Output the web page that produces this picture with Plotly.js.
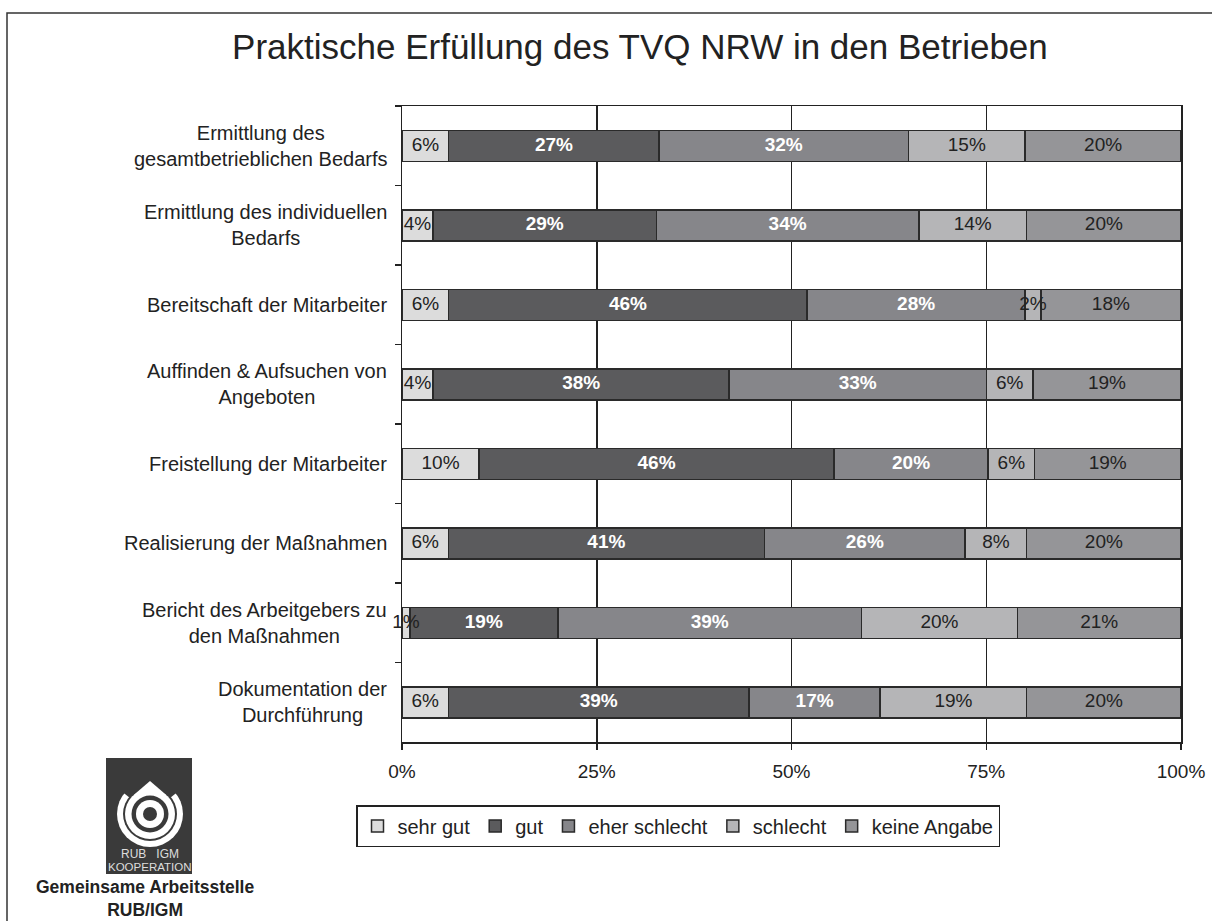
<!DOCTYPE html>
<html>
<head>
<meta charset="utf-8">
<script src="https://cdn.plot.ly/plotly-3.0.1.min.js"></script>
<style>
  html, body { margin: 0; padding: 0; background: #ffffff; }
  #chart { width: 1212px; height: 921px; }
</style>
</head>
<body>
<div id="chart"></div>
<script>
// ---- data ----
const categories = [
  "Ermittlung des<br>gesamtbetrieblichen Bedarfs",
  "Ermittlung des individuellen<br>Bedarfs",
  "Bereitschaft der Mitarbeiter",
  "Auffinden & Aufsuchen von<br>Angeboten",
  "Freistellung der Mitarbeiter",
  "Realisierung der Maßnahmen",
  "Bericht des Arbeitgebers zu<br>den Maßnahmen",
  "Dokumentation der<br>Durchführung"
];
const seriesNames = ["sehr gut", "gut", "eher schlecht", "schlecht", "keine Angabe"];
const sehrGut      = [6, 4, 6, 4, 10, 6, 1, 6];
const gut          = [27, 29, 46, 38, 46, 41, 19, 39];
const eherSchlecht = [32, 34, 28, 33, 20, 26, 39, 17];
const schlecht     = [15, 14, 2, 6, 6, 8, 20, 19];
const keineAngabe  = [20, 20, 18, 19, 19, 20, 21, 20];
const xTickVals = [0, 25, 50, 75, 100];
const xTickText = ["0%", "25%", "50%", "75%", "100%"];

// ---- styling ----
const FONT = "Liberation Sans, Arial, Helvetica, sans-serif";
const seriesValues = [sehrGut, gut, eherSchlecht, schlecht, keineAngabe];
const colors = ["#dcdcdc", "#5b5b5d", "#86868a", "#b5b5b7", "#959598"];
const textColors = ["#222222", "#ffffff", "#ffffff", "#222222", "#222222"];
const textWeights = ["normal", "bold", "bold", "normal", "normal"];

// bars (100% stacked)
const barTraces = seriesNames.map((name, i) => ({
  type: "bar",
  orientation: "h",
  name: name,
  y: categories,
  x: seriesValues[i],
  marker: { color: colors[i], line: { color: "#2a2a2a", width: 1.5 } },
  hoverinfo: "skip"
}));

// value labels, placed at the middle of each normalised segment (drawn above all bars)
const rowTotals = categories.map((_, r) => seriesValues.reduce((s, arr) => s + arr[r], 0));
const labelTraces = seriesNames.map((name, i) => {
  const mids = categories.map((_, r) => {
    let start = 0;
    for (let k = 0; k < i; k++) start += seriesValues[k][r];
    return (start + seriesValues[i][r] / 2) / rowTotals[r] * 100;
  });
  return {
    type: "scatter",
    mode: "text",
    y: categories,
    x: mids,
    text: seriesValues[i].map(v => v + "%"),
    textposition: "middle center",
    textfont: { family: FONT, size: 19, color: textColors[i], weight: textWeights[i] },
    showlegend: false,
    hoverinfo: "skip",
    cliponaxis: false
  };
});

// pixel->paper helpers (plot area: x 402..1181, y 106..742)
const L = 402, R = 1181, T = 106, B = 742;
const px = v => (v - L) / (R - L);
const py = v => (B - v) / (B - T);

const annotations = categories.map(c => ({
  xref: "paper", yref: "y", x: 0, y: c,
  xanchor: "right", yanchor: "middle", xshift: -13,
  align: "center", showarrow: false,
  text: c,
  font: { family: FONT, size: 20, color: "#222222" }
}));

// logo texts
const logoCx = 150, logoCy = 814;
annotations.push(
  { xref: "paper", yref: "paper", x: px(150), y: py(854), xanchor: "center", yanchor: "middle",
    showarrow: false, text: "RUB   IGM", font: { family: FONT, size: 12, color: "#dddddd" } },
  { xref: "paper", yref: "paper", x: px(150), y: py(867), xanchor: "center", yanchor: "middle",
    showarrow: false, text: "KOOPERATION", font: { family: FONT, size: 11.5, color: "#dddddd" } },
  { xref: "paper", yref: "paper", x: px(145), y: py(898), xanchor: "center", yanchor: "middle",
    showarrow: false, align: "center",
    text: "<b>Gemeinsame Arbeitsstelle</b><br><b>RUB/IGM</b>",
    font: { family: FONT, size: 17.5, color: "#222222" } }
);

function pcircle(r, color) {
  return {
    type: "circle", xref: "paper", yref: "paper",
    xsizemode: "pixel", ysizemode: "pixel",
    xanchor: px(logoCx), yanchor: py(logoCy),
    x0: -r, x1: r, y0: -r, y1: r,
    fillcolor: color, line: { width: 0 }, layer: "above"
  };
}
function ppath(path, color) {
  return {
    type: "path", xref: "paper", yref: "paper",
    xsizemode: "pixel", ysizemode: "pixel",
    xanchor: px(logoCx), yanchor: py(logoCy),
    path: path, fillcolor: color, line: { width: 0 }, layer: "above"
  };
}

const shapes = [
  // outer frame
  { type: "rect", xref: "paper", yref: "paper",
    x0: px(7), x1: px(1230), y0: py(960), y1: py(13),
    line: { color: "#333333", width: 1.5 }, fillcolor: "rgba(0,0,0,0)", layer: "below" },
  // logo dark box
  { type: "rect", xref: "paper", yref: "paper",
    x0: px(106), x1: px(192), y0: py(874), y1: py(758),
    line: { width: 0 }, fillcolor: "#3a3a3a", layer: "above" },
  pcircle(33, "#ffffff"),
  pcircle(27, "#3a3a3a"),
  ppath("M0,0 L-40,32 L-22,48 L22,48 L40,32 Z", "#3a3a3a"),
  pcircle(25, "#ffffff"),
  ppath("M-16.3,18.9 L0,33 L16.3,18.9 Z", "#ffffff"),
  pcircle(18.5, "#3a3a3a"),
  pcircle(14, "#ffffff"),
  pcircle(7, "#3a3a3a")
];

const layout = {
  width: 1212, height: 921,
  margin: { l: L, r: 1212 - R, t: T, b: 921 - B },
  paper_bgcolor: "#ffffff", plot_bgcolor: "#ffffff",
  font: { family: FONT, color: "#222222" },
  barmode: "stack",
  barnorm: "percent",
  bargap: 0.61,
  showlegend: true,
  title: {
    text: "Praktische Erfüllung des TVQ NRW in den Betrieben",
    font: { family: FONT, size: 35, color: "#222222" },
    xref: "container", yref: "container",
    x: 0.528, xanchor: "center", y: 1 - 47 / 921, yanchor: "middle"
  },
  xaxis: {
    range: [0, 100],
    tickvals: xTickVals, ticktext: xTickText,
    tickfont: { family: FONT, size: 19, color: "#222222" },
    ticks: "outside", ticklen: 6, tickcolor: "#222222", tickwidth: 1.5,
    ticklabelstandoff: 6,
    showgrid: true, gridcolor: "#222222", gridwidth: 1.5,
    zeroline: false,
    showline: true, linecolor: "#222222", linewidth: 1.5, mirror: true,
    fixedrange: true
  },
  yaxis: {
    type: "category",
    autorange: "reversed",
    showticklabels: false,
    ticks: "outside", tickson: "boundaries", ticklen: 6, tickcolor: "#222222", tickwidth: 1.5,
    showgrid: false, zeroline: false,
    showline: true, linecolor: "#222222", linewidth: 1.5, mirror: true,
    fixedrange: true
  },
  legend: {
    orientation: "h",
    traceorder: "normal",
    x: px(678), xanchor: "center",
    y: py(805), yanchor: "top",
    bordercolor: "#222222", borderwidth: 1.5,
    bgcolor: "#ffffff",
    font: { family: FONT, size: 20, color: "#222222" },
    itemclick: false, itemdoubleclick: false
  },
  annotations: annotations,
  shapes: shapes
};

Plotly.newPlot("chart", barTraces.concat(labelTraces), layout, { displayModeBar: false, staticPlot: true });
</script>
</body>
</html>
